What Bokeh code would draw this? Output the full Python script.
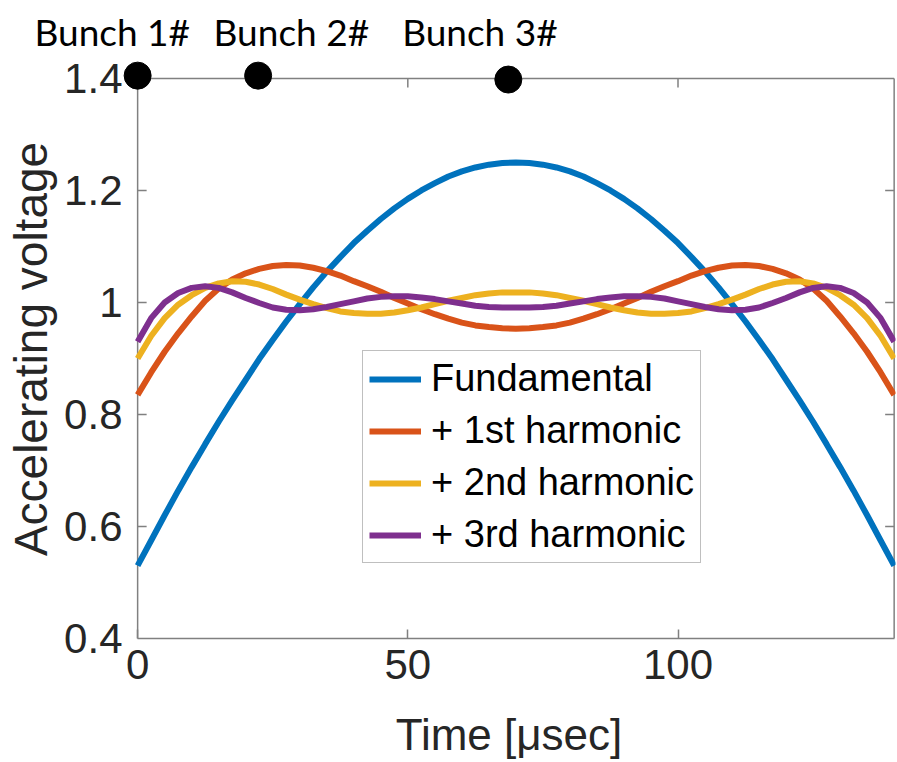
from bokeh.plotting import figure
from bokeh.models import Range1d, FixedTicker, Legend, LegendItem, ColumnDataSource
from bokeh.embed import file_html
from bokeh.resources import INLINE

# ---------------- data ----------------
TIME_US = [0, 2.5, 5, 7.5, 10, 12.5, 15, 17.5, 20, 22.5, 25, 27.5, 30, 32.5, 35, 37.5,
           40, 42.5, 45, 47.5, 50, 52.5, 55, 57.5, 60, 62.5, 65, 67.5, 70, 72.5, 75, 77.5,
           80, 82.5, 85, 87.5, 90, 92.5, 95, 97.5, 100, 102.5, 105, 107.5, 110, 112.5,
           115, 117.5, 120, 122.5, 125, 127.5, 130, 132.5, 135, 137.5, 140]

FUNDAMENTAL = [0.53, 0.575, 0.62, 0.664, 0.706, 0.747, 0.787, 0.825, 0.862, 0.899,
               0.933, 0.966, 0.997, 1.027, 1.055, 1.081, 1.106, 1.128, 1.149, 1.168,
               1.185, 1.2, 1.213, 1.225, 1.234, 1.241, 1.246, 1.249, 1.25,
               1.249, 1.246, 1.241, 1.234, 1.225, 1.213, 1.2, 1.185, 1.168, 1.149,
               1.128, 1.106, 1.081, 1.055, 1.027, 0.997, 0.966, 0.933, 0.899, 0.862,
               0.825, 0.787, 0.747, 0.706, 0.664, 0.62, 0.575, 0.53]

PLUS_1ST = [0.835, 0.875, 0.912, 0.945, 0.975, 1.003, 1.025, 1.041, 1.052, 1.06,
            1.065, 1.067, 1.066, 1.062, 1.056, 1.048, 1.038, 1.029, 1.019, 1.008,
            0.998, 0.988, 0.979, 0.971, 0.964, 0.959, 0.956, 0.954, 0.953,
            0.954, 0.956, 0.959, 0.964, 0.971, 0.979, 0.988, 0.998, 1.008, 1.019,
            1.029, 1.038, 1.048, 1.056, 1.062, 1.066, 1.067, 1.065, 1.06, 1.052,
            1.041, 1.025, 1.003, 0.975, 0.945, 0.912, 0.875, 0.835]

PLUS_2ND = [0.9, 0.94, 0.972, 0.996, 1.013, 1.026, 1.034, 1.038, 1.037, 1.032,
            1.024, 1.014, 1.005, 0.997, 0.99, 0.984, 0.981, 0.98, 0.98, 0.982,
            0.986, 0.991, 0.997, 1.003, 1.008, 1.013, 1.016, 1.018, 1.018,
            1.018, 1.016, 1.013, 1.008, 1.003, 0.997, 0.991, 0.986, 0.982, 0.98,
            0.98, 0.981, 0.984, 0.99, 0.997, 1.005, 1.014, 1.024, 1.032, 1.037,
            1.038, 1.034, 1.026, 1.013, 0.996, 0.972, 0.94, 0.9]

PLUS_3RD = [0.93, 0.972, 1.0, 1.017, 1.026, 1.029, 1.026, 1.018, 1.008, 0.999,
            0.991, 0.987, 0.986, 0.988, 0.992, 0.997, 1.002, 1.007, 1.01, 1.011,
            1.011, 1.009, 1.006, 1.002, 0.998, 0.994, 0.992, 0.991, 0.991,
            0.991, 0.992, 0.994, 0.998, 1.002, 1.006, 1.009, 1.011, 1.011, 1.01,
            1.007, 1.002, 0.997, 0.992, 0.988, 0.986, 0.987, 0.991, 0.999, 1.008,
            1.018, 1.026, 1.029, 1.026, 1.017, 1.0, 0.972, 0.93]

SERIES_NAMES = ["Fundamental", "+ 1st harmonic", "+ 2nd harmonic", "+ 3rd harmonic"]

BUNCH_NAMES = ["Bunch 1#", "Bunch 2#", "Bunch 3#"]
BUNCH_T = [0, 22.3, 68.6]
BUNCH_V = [1.405, 1.405, 1.398]

X_TICKS = [0, 50, 100]
X_TICK_LABELS = ["0", "50", "100"]
Y_TICKS = [0.4, 0.6, 0.8, 1, 1.2, 1.4]
Y_TICK_LABELS = ["0.4", "0.6", "0.8", "1", "1.2", "1.4"]

X_MIN, X_MAX = 0, 140
Y_MIN, Y_MAX = 0.4, 1.4

# ---------------- style / layout ----------------
COLORS = ["#0072BD", "#D95319", "#EDB120", "#7E2F8E"]
AX_COLOR = "#808080"
TXT_COLOR = "#262626"
SANS = "Liberation Sans"
X_PX = 5.407            # px per microsecond
X_PAD_L = 2.8           # room left of the box so the first marker is whole
X_PAD_R = 0.25          # tiny room right of the box so its edge line is whole
PAD_L_PX = round(X_PAD_L * X_PX)
FRAME_W = round((X_MAX - X_MIN + X_PAD_L + X_PAD_R) * X_PX)
FRAME_H = 579
Y_TOP_EXTRA = 0.0338    # room above the box for the bunch markers
TICK_PX = 9
GAPS = ["\u00a0\u00a0\u2009", "\u00a0\u00a0\u00a0\u2009"]   # spacing of captions

x_px = FRAME_W / (X_MAX + X_PAD_R - X_MIN + X_PAD_L)
y_px = FRAME_H / (Y_MAX + Y_TOP_EXTRA - Y_MIN)

caption = BUNCH_NAMES[0] + GAPS[0] + BUNCH_NAMES[1] + GAPS[1] + BUNCH_NAMES[2]

p = figure(frame_width=FRAME_W, frame_height=FRAME_H, title=caption,
           x_range=Range1d(X_MIN - X_PAD_L, X_MAX + X_PAD_R),
           y_range=Range1d(Y_MIN, Y_MAX + Y_TOP_EXTRA),
           output_backend="svg", toolbar_location=None,
           min_border_left=137 - PAD_L_PX, min_border_right=2,
           min_border_top=58, min_border_bottom=125)
p.outline_line_color = None
p.xgrid.visible = False
p.ygrid.visible = False
p.background_fill_color = "white"
p.border_fill_color = "white"

p.title.align = "left"
p.title.offset = -103 + PAD_L_PX
p.title.standoff = 12
p.title.text_font = "Lato"
p.title.text_font_size = "37px"
p.title.text_font_style = "normal"
p.title.text_color = "black"

# left axis: labels and title only (its line and ticks are drawn at t = 0 below)
ya = p.yaxis[0]
ya.ticker = FixedTicker(ticks=Y_TICKS)
ya.major_label_overrides = {t: l for t, l in zip(Y_TICKS, Y_TICK_LABELS)}
ya.axis_label = "Accelerating voltage"
ya.axis_label_text_font_size = "46px"
ya.axis_label_standoff = 4
ya.major_label_text_font_size = "42px"
ya.major_label_standoff = 0
ya.axis_line_color = None
ya.major_tick_line_color = None
ya.major_tick_in = 0
ya.major_tick_out = 0

# bottom axis
xa = p.xaxis[0]
xa.ticker = FixedTicker(ticks=X_TICKS)
xa.major_label_overrides = {t: l for t, l in zip(X_TICKS, X_TICK_LABELS)}
xa.bounds = (X_MIN, X_MAX)
xa.axis_label = "Time [\u03bcsec]"
xa.axis_label_text_font_size = "44px"
xa.axis_label_standoff = 28
xa.major_label_text_font_size = "42px"
xa.major_label_standoff = 11
xa.axis_line_color = AX_COLOR
xa.axis_line_width = 1.5
xa.major_tick_line_color = AX_COLOR
xa.major_tick_line_width = 1.5
xa.major_tick_in = TICK_PX
xa.major_tick_out = 0

for ax in (xa, ya):
    ax.axis_label_text_font = SANS
    ax.axis_label_text_font_style = "normal"
    ax.axis_label_text_color = TXT_COLOR
    ax.major_label_text_font = SANS
    ax.major_label_text_color = TXT_COLOR
    ax.minor_tick_line_color = None

# left, top and right sides of the box, with inward ticks
box_style = dict(line_color=AX_COLOR, line_width=1.5)
p.segment(x0=[X_MIN, X_MIN, X_MAX], y0=[Y_MIN, Y_MAX, Y_MIN],
          x1=[X_MIN, X_MAX, X_MAX], y1=[Y_MAX, Y_MAX, Y_MAX], **box_style)
top_t = X_TICKS[1:]
p.segment(x0=top_t, y0=[Y_MAX] * len(top_t), x1=top_t,
          y1=[Y_MAX - TICK_PX / y_px] * len(top_t), **box_style)
side_t = Y_TICKS[1:-1]
p.segment(x0=[X_MAX] * len(side_t), y0=side_t,
          x1=[X_MAX - TICK_PX / x_px] * len(side_t), y1=side_t, **box_style)
p.segment(x0=[X_MIN] * len(side_t), y0=side_t,
          x1=[X_MIN + TICK_PX / x_px] * len(side_t), y1=side_t, **box_style)

# curves
src = ColumnDataSource(dict(t=TIME_US, f0=FUNDAMENTAL, f1=PLUS_1ST,
                            f2=PLUS_2ND, f3=PLUS_3RD))
items = []
for key, name, col in zip(["f0", "f1", "f2", "f3"], SERIES_NAMES, COLORS):
    r = p.line("t", key, source=src, line_color=col, line_width=6)
    items.append(LegendItem(label=name, renderers=[r]))

legend = Legend(items=items, location=(225 + PAD_L_PX, 75),
                label_text_font=SANS, label_text_font_size="38px",
                label_text_color="black", glyph_width=52, glyph_height=40,
                label_height=40, spacing=9, padding=6, margin=0,
                label_standoff=10, border_line_color=AX_COLOR,
                border_line_width=1.5, background_fill_color="white",
                background_fill_alpha=1.0)
p.add_layout(legend)

# bunch markers
p.scatter(BUNCH_T, BUNCH_V, size=27, marker="circle", fill_color="black",
          line_color="black")

open("out.html", "w").write(file_html(p, INLINE))
